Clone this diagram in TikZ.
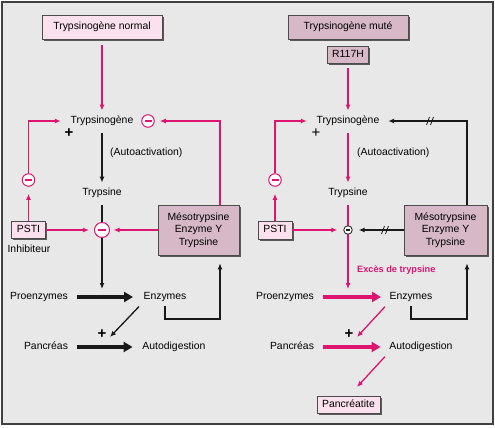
\documentclass[tikz,border=0pt]{standalone}
\usepackage{fontspec}
\setmainfont{Liberation Sans}
\usetikzlibrary{arrows.meta,shadows}
\definecolor{pk}{RGB}{221,20,112}
\definecolor{pkfill}{RGB}{251,224,237}
\definecolor{mvfill}{RGB}{214,184,199}
\definecolor{bg}{RGB}{232,232,232}
\definecolor{ln}{RGB}{25,25,25}
\begin{document}
\begin{tikzpicture}[x=1pt,y=-1pt,
  every node/.style={font=\fontsize{10.4}{12.5}\selectfont},
  txt/.style={inner sep=0, text height=7.4pt, text depth=2pt},
  plus/.style={inner sep=0, font=\fontsize{15}{15}\selectfont},
  bxbase/.style={draw=black!70, line width=0.6pt, inner sep=0,
    drop shadow={shadow xshift=1.8pt, shadow yshift=-1.8pt, fill=black!65, opacity=1}},
  bx/.style={bxbase, text height=7.4pt, text depth=2pt},
  pinkbx/.style={bx, fill=pkfill},
  mauvebx/.style={bx, fill=mvfill},
  mesobx/.style={bxbase, fill=mvfill, align=center},
  mc/.style={circle, draw=pk, line width=1pt, fill=white, minimum size=#1, inner sep=0,
    path picture={\fill[pk] ([xshift=-#1*0.28, yshift=-0.8pt]path picture bounding box.center)
      rectangle ([xshift=#1*0.28, yshift=0.8pt]path picture bounding box.center);}},
  ms/.style={circle, draw=ln, line width=0.8pt, fill=white, minimum size=8.5, inner sep=0,
    path picture={\fill[ln] ([xshift=-2.3pt, yshift=-0.65pt]path picture bounding box.center)
      rectangle ([xshift=2.3pt, yshift=0.65pt]path picture bounding box.center);}},
  pka/.style={draw=pk, line width=1.3pt, -{Latex[length=6pt,width=5pt]}},
  pkl/.style={draw=pk, line width=1.3pt},
  bka/.style={draw=ln, line width=1.3pt, -{Latex[length=6pt,width=5pt]}},
  bkl/.style={draw=ln, line width=1.3pt},
  tka/.style={draw=ln, line width=3.6pt, -{Triangle[length=9pt,width=10pt]}},
  tkp/.style={draw=pk, line width=3.6pt, -{Triangle[length=9pt,width=10pt]}},
  brk/.pic={\draw[ln, line width=0.8pt] (-3.5,4) -- (-0.5,-4) (0.5,4) -- (3.5,-4);}
]
\useasboundingbox (0,0) rectangle (495,428);
\filldraw[fill=bg, draw=black!75, line width=1.5pt] (2,2) rectangle (493,424);

% ---------- left panel ----------
\node[pinkbx, minimum width=120, minimum height=24] (tn) at (102,27) {Trypsinogène normal};
\node[txt] (tg) at (102,121) {Trypsinogène};
\node[txt] (ts) at (102,193) {Trypsine};
\node[txt, anchor=west] (aa) at (110,153) {(Autoactivation)};
\node[plus] (p1) at (69,133) {\textbf{+}};
\node[mc=12.5] (m1) at (148,121) {};
\node[mc=12.5] (m2) at (28.5,180) {};
\node[mc=15] (m3) at (102,230) {};
\node[pinkbx, minimum width=34, minimum height=17] (psti) at (28.5,230) {PSTI};
\node[txt] (inh) at (29,250) {Inhibiteur};
\node[mesobx, minimum width=81, minimum height=50] (meso) at (198.5,230) {Mésotrypsine\\Enzyme Y\\Trypsine};
\node[txt] (pro) at (39,297) {Proenzymes};
\node[txt] (enz) at (165,297) {Enzymes};
\node[txt] (pan) at (46,347) {Pancréas};
\node[txt] (ad) at (174,347) {Autodigestion};
\node[plus] (p2) at (102,334) {\textbf{+}};
\coordinate (c1) at (28.5,121);
\coordinate (c2) at (220,121);
\coordinate (c3) at (220,319);
\coordinate (j1) at (102,289);
\coordinate (d1) at (110,337);

\draw[pka, shorten <=6pt, shorten >=5.5pt] (tn) -- (tg);
\draw[bka, shorten <=7.5pt, shorten >=5.5pt] (tg) -- (ts);
\draw[bkl, shorten <=7.5pt] (ts) -- (m3);
\draw[bka] (m3) -- (j1);
\draw[pka, shorten >=5pt] (psti) -- (m3);
\draw[pka, shorten >=3.5pt] (meso) -- (m3);
\draw[pka, shorten >=7pt] (psti) -- (m2);
\draw[pka, shorten >=9.7pt] (m2) -- (c1) -- (tg);
\draw[pka, shorten >=5pt] (c2 |- meso.north) -- (c2) -- (m1);
\draw[bka, shorten <=4.5pt, shorten >=8pt] (enz.south) -- (enz.south |- c3) -- (c3) -- (c3 |- meso.south);
\draw[bka, shorten <=6.5pt] (enz.south west) -- (d1);
\draw[tka, shorten <=8.5pt, shorten >=10.4pt] (pro) -- (enz);
\draw[tka, shorten <=8.5pt, shorten >=9.7pt] (pan) -- (ad);

% ---------- right panel ----------
\node[mauvebx, minimum width=120, minimum height=24] (tm) at (348,27) {Trypsinogène muté};
\node[mauvebx, minimum width=41, minimum height=17] (rh) at (348,54.5) {R117H};
\node[txt] (tg2) at (348,121) {Trypsinogène};
\node[txt] (ts2) at (348,193) {Trypsine};
\node[txt, anchor=west] (aa2) at (357,153) {(Autoactivation)};
\node[plus] (p3) at (316,133) {+};
\node[mc=12.5] (m4) at (275,180) {};
\node[pinkbx, minimum width=34, minimum height=18] (psti2) at (275,230) {PSTI};
\node[mesobx, minimum width=83, minimum height=50] (meso2) at (445.5,230) {Mésotrypsine\\Enzyme Y\\Trypsine};
\node[txt, anchor=west, font=\fontsize{9.2}{11}\selectfont\bfseries, text=pk] (ex) at (357,270) {Excès de trypsine};
\node[txt] (pro2) at (285,297) {Proenzymes};
\node[txt] (enz2) at (411,297) {Enzymes};
\node[txt] (pan2) at (292,347) {Pancréas};
\node[txt] (ad2) at (421,347) {Autodigestion};
\node[plus] (p4) at (349,334) {\textbf{+}};
\node[pinkbx, minimum width=63, minimum height=17] (pt) at (348.5,404.5) {Pancréatite};
\coordinate (c4) at (275,121);
\coordinate (c5) at (467,121);
\coordinate (c6) at (467,319);
\coordinate (j2) at (348,289);
\coordinate (d2) at (357,337);
\coordinate (d3) at (357,387);

\draw[pka, shorten <=5pt, shorten >=5.5pt] (rh) -- (tg2);
\draw[pka, shorten <=7.5pt, shorten >=5.5pt] (tg2) -- (ts2);
\draw[pka, shorten <=7.5pt] (ts2) -- (j2);
\node[ms] (m5) at (348,230) {};
\draw[pka, shorten >=6pt] (psti2) -- (m5);
\draw[bka, shorten >=6pt] (meso2) -- (m5);
\pic at (385,230) {brk};
\draw[pka, shorten >=7pt] (psti2) -- (m4);
\draw[pka, shorten >=9.7pt] (m4) -- (c4) -- (tg2);
\draw[bka, shorten >=8.7pt] (c5 |- meso2.north) -- (c5) -- (tg2);
\pic at (430,121) {brk};
\draw[bka, shorten <=4.5pt, shorten >=8pt] (enz2.south) -- (enz2.south |- c6) -- (c6) -- (c6 |- meso2.south);
\draw[pka, shorten <=6.5pt] (enz2.south west) -- (d2);
\draw[pka, shorten <=6.5pt] (ad2.south west) -- (d3);
\draw[tkp, shorten <=8.5pt, shorten >=8.4pt] (pro2) -- (enz2);
\draw[tkp, shorten <=8.5pt, shorten >=8.7pt] (pan2) -- (ad2);
\end{tikzpicture}
\end{document}
